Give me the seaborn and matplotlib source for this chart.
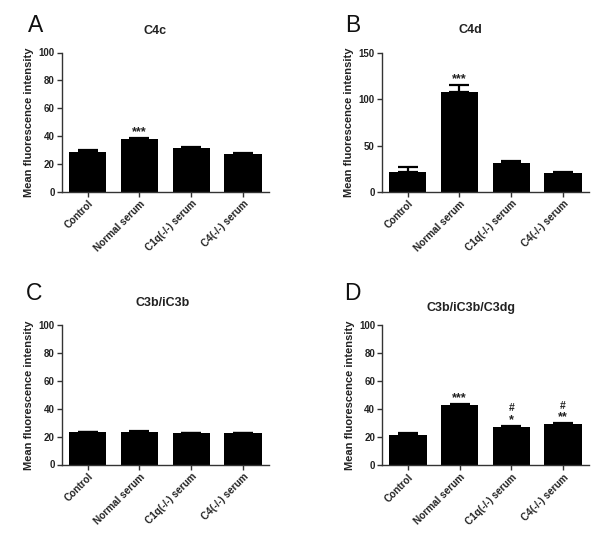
import matplotlib
matplotlib.use("Agg")
import matplotlib.pyplot as plt
import seaborn as sns
import numpy as np
import pandas as pd

# ---- data ----
categories = ["Control", "Normal serum", "C1q(-/-) serum", "C4(-/-) serum"]

titles = ["C4c", "C4d", "C3b/iC3b", "C3b/iC3b/C3dg"]
letters = ["A", "B", "C", "D"]

c4c_values = [28.8, 37.8, 31.3, 27.2]
c4c_errors = [0.8, 1.0, 0.8, 0.8]
c4c_marks = ["", "***", "", ""]

c4d_values = [21.0, 108.0, 31.0, 20.5]
c4d_errors = [5.5, 8.0, 1.8, 1.0]
c4d_marks = ["", "***", "", ""]

c3b_values = [23.0, 23.5, 22.5, 22.5]
c3b_errors = [0.6, 0.5, 0.4, 0.4]
c3b_marks = ["", "", "", ""]

c3dg_values = [21.5, 43.0, 27.3, 29.0]
c3dg_errors = [1.2, 0.8, 0.6, 0.8]
c3dg_marks = ["", "***", "*", "**"]
c3dg_hash = ["", "", "#", "#"]

ymax = [100, 150, 100, 100]
ytick_step = [20, 50, 20, 20]

panels = [
    (c4c_values, c4c_errors, c4c_marks, ["", "", "", ""]),
    (c4d_values, c4d_errors, c4d_marks, ["", "", "", ""]),
    (c3b_values, c3b_errors, c3b_marks, ["", "", "", ""]),
    (c3dg_values, c3dg_errors, c3dg_marks, c3dg_hash),
]

sns.set_style("ticks")
plt.rcParams["font.family"] = ["Liberation Sans", "DejaVu Sans"]
plt.rcParams["font.weight"] = "bold"

fig = plt.figure(figsize=(6.0, 5.43), dpi=100)
fig.patch.set_facecolor("white")

W, H = 600.0, 543.0
# axes boxes in pixel coords: left, top, right, bottom
boxes = [
    (61.7, 52.5, 269.0, 191.7),
    (381.7, 53.3, 589.0, 191.7),
    (61.7, 325.0, 269.0, 464.5),
    (382.0, 325.0, 589.0, 465.0),
]
letter_pos = [(28, 32), (345, 32), (26, 300), (344, 300)]
title_pos = [(155, 31), (470, 30), (163, 303), (471, 308)]

spine_col = "#333333"

for i, (vals, errs, marks, hashes) in enumerate(panels):
    l, t, r, b = boxes[i]
    ax = fig.add_axes([l / W, 1 - b / H, (r - l) / W, (b - t) / H])
    df = pd.DataFrame({"group": categories, "value": vals})
    sns.barplot(data=df, x="group", y="value", color="black", width=0.72,
                errorbar=None, ax=ax, saturation=1, edgecolor="black", linewidth=0)
    xs = np.arange(len(categories))
    ax.errorbar(xs, vals, yerr=[np.zeros(len(errs)), errs], fmt="none",
                ecolor="black", elinewidth=1.6, capsize=7, capthick=1.6)
    for x, v, e, m, h in zip(xs, vals, errs, marks, hashes):
        if m:
            ax.annotate(m, xy=(x, v + e), xytext=(0, 2.0), textcoords="offset points",
                        ha="center", va="baseline", fontsize=9, color="#222222")
        if h:
            ax.annotate(h, xy=(x, v + e), xytext=(0, 10.5), textcoords="offset points",
                        ha="center", va="baseline", fontsize=7.5, color="#222222")
    ax.set_xlim(-0.5, len(categories) - 0.5)
    ax.set_ylim(0, ymax[i])
    ax.set_yticks(np.arange(0, ymax[i] + 1, ytick_step[i]))
    ax.set_xlabel("")
    ax.set_ylabel("Mean fluorescence intensity", fontsize=8, fontweight="bold",
                  labelpad=3, color="#222222")
    ax.set_xticks(xs)
    ax.set_xticklabels(categories, rotation=45, ha="right", va="top",
                       rotation_mode="anchor", fontsize=7.2, fontweight="bold",
                       color="#222222")
    for lab in ax.get_yticklabels():
        lab.set_fontsize(7)
        lab.set_fontweight("bold")
        lab.set_color("#222222")
    for s in ["top", "right"]:
        ax.spines[s].set_visible(False)
    for s in ["left", "bottom"]:
        ax.spines[s].set_color(spine_col)
        ax.spines[s].set_linewidth(1.0)
    ax.tick_params(axis="both", direction="out", length=3.5, width=1.0,
                   color=spine_col, pad=1.5)
    ax.set_facecolor("white")

    fig.text(letter_pos[i][0] / W, 1 - letter_pos[i][1] / H, letters[i],
             fontsize=16.5, fontweight="normal", ha="left", va="baseline", color="#111111")
    fig.text(title_pos[i][0] / W, 1 - title_pos[i][1] / H, titles[i],
             fontsize=9, fontweight="bold", ha="center", va="center", color="#222222")

fig.savefig("out.png", dpi=100, facecolor="white")
